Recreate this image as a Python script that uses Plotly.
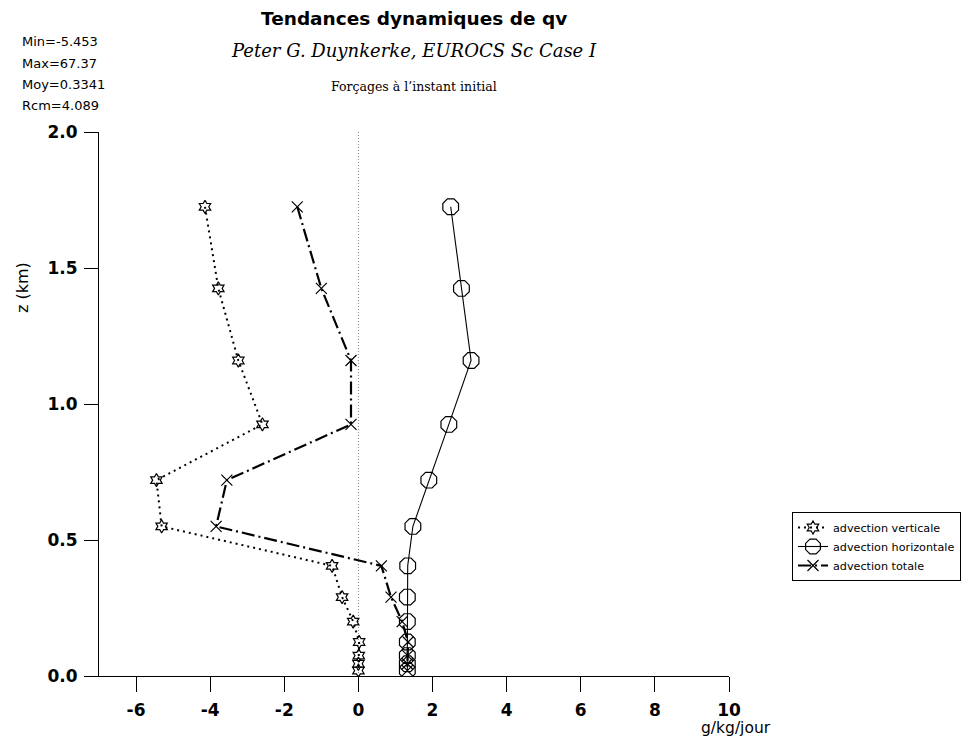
import plotly.graph_objects as go

# Model levels (km) and dynamical tendencies of qv (g/kg/jour)
z_levels = [1.725, 1.425, 1.16, 0.925, 0.72, 0.55, 0.405, 0.29, 0.20, 0.125, 0.075, 0.045, 0.02]
adv_verticale = [-4.14, -3.78, -3.24, -2.59, -5.45, -5.31, -0.71, -0.44, -0.14, 0.02, 0.01, 0.0, 0.0]
adv_horizontale = [2.49, 2.78, 3.04, 2.44, 1.90, 1.47, 1.33, 1.32, 1.32, 1.32, 1.32, 1.32, 1.32]
adv_totale = [-1.65, -1.00, -0.20, -0.20, -3.55, -3.84, 0.62, 0.88, 1.18, 1.34, 1.33, 1.32, 1.32]

x_ticks = [-6, -4, -2, 0, 2, 4, 6, 8, 10]
y_ticks = [0.0, 0.5, 1.0, 1.5, 2.0]
stats_lines = ["Min=-5.453", "Max=67.37", "Moy=0.3341", "Rcm=4.089"]

SANS = "DejaVu Sans, Liberation Sans, sans-serif"
SERIF = "DejaVu Serif, Liberation Serif, serif"

W, H = 963, 741
L, R, T, B = 99, 234, 132, 65
PW, PH = W - L - R, H - T - B


def px_x(px):
    return (px - L) / PW


def px_y(py):
    return (H - B - py) / PH


fig = go.Figure()

fig.add_trace(go.Scatter(
    x=adv_verticale, y=z_levels, name="advection verticale", mode="lines+markers",
    line=dict(color="black", width=2, dash="2px,4px"),
    marker=dict(symbol="hexagram-open", size=10, color="black", line=dict(width=1.2, color="black")),
))
fig.add_trace(go.Scatter(
    x=adv_horizontale, y=z_levels, name="advection horizontale", mode="lines+markers",
    line=dict(color="black", width=1.1),
    marker=dict(symbol="octagon-open", size=17, color="black", line=dict(width=1.2, color="black")),
))
fig.add_trace(go.Scatter(
    x=adv_totale, y=z_levels, name="advection totale", mode="lines+markers",
    line=dict(color="black", width=2.2, dash="13px,4px,2px,4px"),
    marker=dict(symbol="x-thin-open", size=11, color="black", line=dict(width=1.2, color="black")),
))

# dotted zero reference line
fig.add_shape(type="line", xref="x", yref="y", x0=0, x1=0, y0=0, y1=2,
              line=dict(color="#888888", width=1, dash="1px,2px"), layer="below")

annotations = [
    dict(text="<b>Tendances dynamiques de qv</b>", x=0.5, y=px_y(18), xref="paper", yref="paper",
         showarrow=False, font=dict(family=SANS, size=18.5, color="black"), xanchor="center", yanchor="middle"),
    dict(text="<i>Peter G. Duynkerke, EUROCS Sc Case I</i>", x=0.5, y=px_y(51), xref="paper", yref="paper",
         showarrow=False, font=dict(family=SERIF, size=18, color="black"), xanchor="center", yanchor="middle"),
    dict(text="Forçages à l’instant initial", x=0.5, y=px_y(87), xref="paper", yref="paper",
         showarrow=False, font=dict(family=SERIF, size=12.5, color="black"), xanchor="center", yanchor="middle"),
    dict(text="z (km)", x=px_x(22), y=px_y(288), xref="paper", yref="paper", textangle=-90,
         showarrow=False, font=dict(family=SANS, size=16, color="black"), xanchor="center", yanchor="middle"),
    dict(text="g/kg/jour", x=px_x(699), y=px_y(728), xref="paper", yref="paper",
         showarrow=False, font=dict(family=SANS, size=15.5, color="black"), xanchor="left", yanchor="middle"),
]
for i, s in enumerate(stats_lines):
    annotations.append(dict(text=s, x=px_x(20), y=px_y(42 + 21.3 * i), xref="paper", yref="paper",
                            showarrow=False, font=dict(family=SANS, size=13, color="black"),
                            xanchor="left", yanchor="middle"))

fig.update_layout(
    width=W, height=H,
    margin=dict(l=L, r=R, t=T, b=B, pad=0, autoexpand=False),
    paper_bgcolor="white", plot_bgcolor="white",
    annotations=annotations,
    showlegend=True,
    legend=dict(x=px_x(792), y=px_y(512), xanchor="left", yanchor="top",
                bordercolor="black", borderwidth=1, bgcolor="white",
                font=dict(family=SANS, size=11.2, color="black"),
                itemwidth=30, tracegroupgap=0),
    xaxis=dict(range=[-7, 10], tickvals=x_ticks, ticktext=[f"<b>{v}</b>" for v in x_ticks],
               showgrid=False, zeroline=False, showline=True, linecolor="black", linewidth=1,
               ticks="outside", ticklen=15, tickcolor="black", tickwidth=1,
               tickfont=dict(family=SANS, size=17, color="black"), ticklabelstandoff=4),
    yaxis=dict(range=[0, 2], tickvals=y_ticks, ticktext=[f"<b>{v:.1f}</b>" for v in y_ticks],
               showgrid=False, zeroline=False, showline=True, linecolor="black", linewidth=1,
               ticks="outside", ticklen=14, tickcolor="black", tickwidth=1,
               tickfont=dict(family=SANS, size=17, color="black"), ticklabelstandoff=3),
)

fig.write_html("out.html")
